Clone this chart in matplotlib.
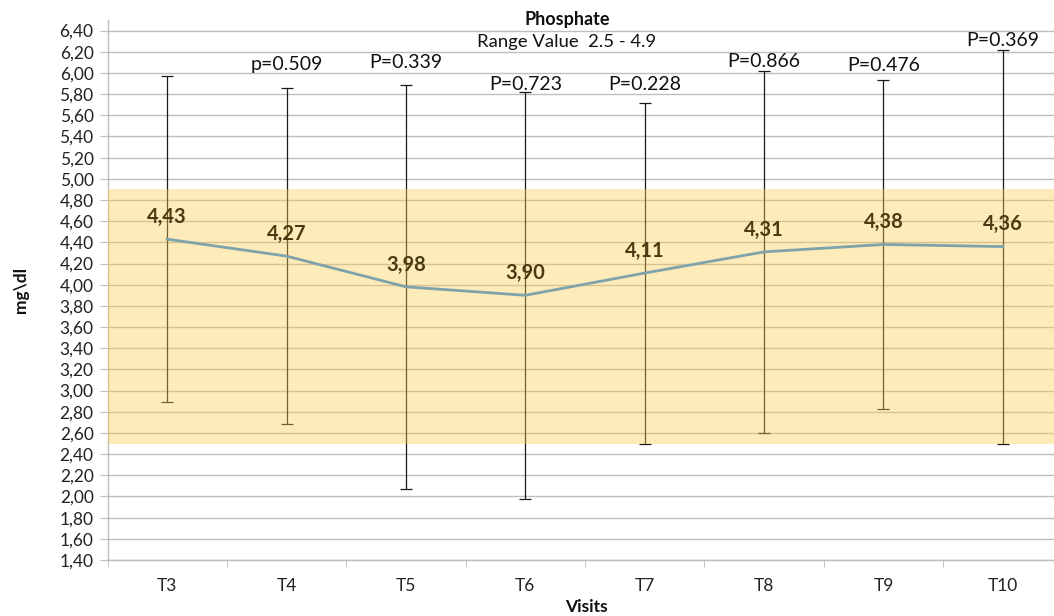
import matplotlib
matplotlib.use("Agg")
import matplotlib.pyplot as plt
from matplotlib.ticker import FuncFormatter

plt.rcParams['font.family'] = ['Lato', 'DejaVu Sans']

# Phosphate over visits: mean, SD and p-values
visits = ["T3", "T4", "T5", "T6", "T7", "T8", "T9", "T10"]
means = [4.43, 4.27, 3.98, 3.90, 4.11, 4.31, 4.38, 4.36]
sds = [1.54, 1.59, 1.91, 1.92, 1.61, 1.71, 1.55, 1.86]
p_labels = ["", "p=0.509", "P=0.339", "P=0.723", "P=0.228", "P=0.866", "P=0.476", "P=0.369"]
p_label_y = [None, 6.08, 6.10, 5.89, 5.89, 6.11, 6.07, 6.31]
range_low, range_high = 2.5, 4.9

W, H = 1054, 616
fig = plt.figure(figsize=(W / 100, H / 100), dpi=100)
ax = fig.add_axes([107.5 / W, 1 - 560 / H, 955 / W, 540 / H])

x = list(range(len(visits)))
ax.set_xlim(-0.5, len(visits) - 0.5)
ax.set_ylim(1.40, 6.50)

# grid
ax.set_yticks([1.4 + 0.2 * i for i in range(26)])
ax.grid(axis='y', color='#BEBEBE', linewidth=1.0, zorder=0)
ax.set_axisbelow(True)

# error bars
ax.errorbar(x, means, yerr=sds, fmt='none', ecolor='#1a1a1a', elinewidth=0.9,
            capsize=4, capthick=0.9, zorder=2)

# reference range band
ax.axhspan(range_low, range_high, facecolor=(250 / 255, 207 / 255, 82 / 255),
           alpha=0.4, linewidth=0, zorder=3)

# mean line
ax.plot(x, means, color='#7FA3AB', linewidth=2.0, zorder=4)

# value labels
for xi, m in zip(x, means):
    ax.annotate(f"{m:.2f}".replace('.', ','), (xi, m), xytext=(0, 16),
                textcoords='offset points', ha='center', va='center',
                fontsize=14.5, fontweight='bold', color='#4A3C12', zorder=5)

# p-value labels
for xi, lab, ly in zip(x, p_labels, p_label_y):
    if lab:
        ax.text(xi, ly, lab, ha='center', va='center', fontsize=14,
                color='#111111', zorder=5)

# axes styling
for side in ('top', 'right'):
    ax.spines[side].set_visible(False)
for side in ('left', 'bottom'):
    ax.spines[side].set_color('#BEBEBE')
    ax.spines[side].set_linewidth(1.0)

ax.yaxis.set_major_formatter(FuncFormatter(lambda v, _: f"{v:.2f}".replace('.', ',')))
ax.tick_params(axis='y', length=6, color='#BEBEBE', labelsize=12.5, labelcolor='#222222', pad=4)

ax.set_xticks(x)
ax.set_xticklabels(visits)
ax.set_xticks([i + 0.5 for i in range(-1, len(visits))], minor=True)
ax.tick_params(axis='x', which='major', length=0, labelsize=12.5, labelcolor='#222222', pad=13)
ax.tick_params(axis='x', which='minor', length=5, color='#BEBEBE')

# titles
fig.text(567 / W, 1 - 19 / H, "Phosphate", ha='center', va='center',
         fontsize=13, fontweight='bold', color='#111111')
fig.text(567 / W, 1 - 42 / H, "Range Value  2.5 - 4.9", ha='center', va='center',
         fontsize=13.3, color='#111111')
fig.text(586 / W, 1 - 607 / H, "Visits", ha='center', va='center',
         fontsize=12.5, fontweight='bold', color='#111111')
fig.text(21 / W, 1 - 290 / H, "mg\\dl", ha='center', va='center', rotation=90,
         fontsize=12.5, fontweight='bold', color='#111111')

fig.savefig("out.png", dpi=100)
